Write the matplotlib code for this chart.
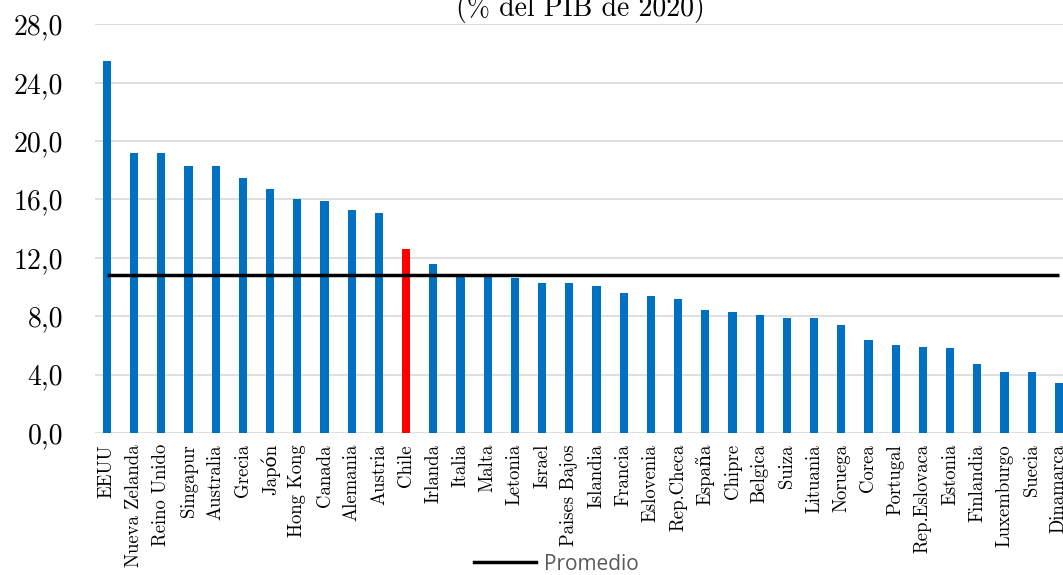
import matplotlib
matplotlib.use("Agg")
import matplotlib.pyplot as plt
from matplotlib.ticker import FuncFormatter, MultipleLocator
from matplotlib.lines import Line2D

# Gasto fiscal por país, % del PIB de 2020
paises = [
    "EEUU", "Nueva Zelanda", "Reino Unido", "Singapur", "Australia", "Grecia",
    "Japón", "Hong Kong", "Canada", "Alemania", "Austria", "Chile", "Irlanda",
    "Italia", "Malta", "Letonia", "Israel", "Paises Bajos", "Islandia",
    "Francia", "Eslovenia", "Rep.Checa", "España", "Chipre", "Belgica",
    "Suiza", "Lituania", "Noruega", "Corea", "Portugal", "Rep.Eslovaca",
    "Estonia", "Finlandia", "Luxemburgo", "Suecia", "Dinamarca",
]
valores = [
    25.5, 19.2, 19.2, 18.3, 18.3, 17.5,
    16.7, 16.0, 15.9, 15.3, 15.1, 12.6, 11.6,
    10.9, 10.8, 10.6, 10.3, 10.3, 10.1,
    9.6, 9.4, 9.2, 8.4, 8.3, 8.1,
    7.9, 7.9, 7.4, 6.4, 6.0, 5.9,
    5.8, 4.7, 4.2, 4.2, 3.4,
]
promedio = 10.8
destacado = "Chile"

azul = "#0070C0"
rojo = "#FF0000"
serif = ["cmr10", "DejaVu Serif"]

plt.rcParams["axes.formatter.use_mathtext"] = True

fig = plt.figure(figsize=(10.63, 5.75), dpi=100)
ax = fig.add_axes([95 / 1063, 1 - 433 / 575, 1 - 95 / 1063, (433 - 24.3) / 575])

x = list(range(len(paises)))
colores = [rojo if p == destacado else azul for p in paises]
ax.bar(x, valores, width=0.3, color=colores, zorder=2)
ax.plot(x, [promedio] * len(x), color="black", linewidth=2.5, zorder=3,
        solid_capstyle="butt")

ax.set_ylim(0, 28)
ax.set_xlim(-0.44, len(paises) - 1 + 0.15)
ax.yaxis.set_major_locator(MultipleLocator(4))
ax.yaxis.set_major_formatter(FuncFormatter(lambda v, _: f"{v:.1f}".replace(".", ",")))
ax.grid(axis="y", color="#d9d9d9", linewidth=1.2, zorder=0)
ax.set_axisbelow(True)
for s in ax.spines.values():
    s.set_visible(False)

ax.set_xticks(x)
ax.set_xticklabels(paises, rotation=90, family=serif, fontsize=13.5,
                   va="top", ha="center")
ax.tick_params(axis="x", length=0, pad=8)
ax.tick_params(axis="y", length=0, pad=23)
for lbl in ax.get_yticklabels():
    lbl.set_family(serif)
    lbl.set_fontsize(20)

fig.text(580 / 1063, 1 - 16 / 575, "(% del PIB de 2020)", family=serif,
         fontsize=20, ha="center", va="baseline")

handle = Line2D([], [], color="black", linewidth=2.5)
fig.legend([handle], ["Promedio"], loc="center",
           bbox_to_anchor=(556 / 1063, 1 - 564 / 575), frameon=False,
           handlelength=3.0, handletextpad=0.35, borderpad=0,
           prop={"family": "Open Sans", "size": 15}, labelcolor="#595959")

fig.savefig("out.png", dpi=100)
